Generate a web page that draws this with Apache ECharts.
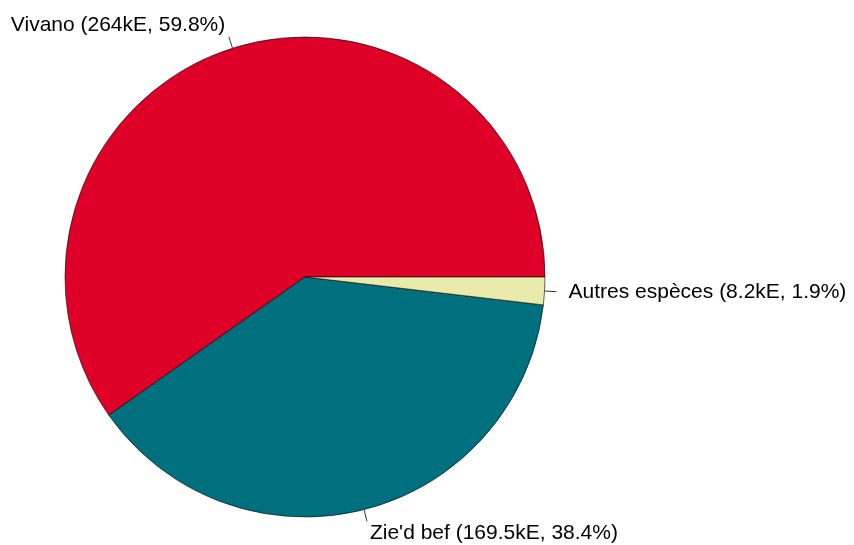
<!DOCTYPE html>
<html>
	<head>
		<meta charset="utf-8">
		<title>pie</title>
		<script src="https://cdn.jsdelivr.net/npm/echarts@6/dist/echarts.min.js"></script>
	</head>
	<body style="margin: 0; background: #fff;">
		<div id="box" style="width: 854px;height: 545px;"></div>
		<script>
			var mCharts = echarts.init(document.querySelector('#box'))

			// especes et valeurs (kE)
			var names = ['Vivano', "Zie'd bef", 'Autres espèces']
			var values = [264, 169.5, 8.2]
			var percents = ['59.8%', '38.4%', '1.9%']
			var colors = ['#DF0027', '#00707F', '#E8EBAA']

			var data = names.map(function (n, i) {
				return {
					name: n,
					value: values[i],
					itemStyle: { color: colors[i] },
					label: { formatter: n + ' (' + values[i] + 'kE, ' + percents[i] + ')' }
				}
			})

			var option = {
				animation: false,
				series: [
					{
						type: 'pie',
						center: [305, 277],
						radius: 240,
						startAngle: 0,
						clockwise: false,
						avoidLabelOverlap: false,
						data: data,
						itemStyle: {
							borderColor: '#000',
							borderWidth: 0.6
						},
						label: {
							show: true,
							position: 'outside',
							color: '#000',
							fontFamily: 'Liberation Sans',
							fontSize: 21
						},
						labelLine: {
							show: true,
							length: 12,
							length2: 0,
							lineStyle: { color: '#333', width: 1 }
						},
						// place label a bit further along the tick, like R's pie()
						labelLayout: function (p) {
							var pts = p.labelLinePoints
							if (!pts) return {}
							var a = pts[0], b = pts[1]
							return {
								x: b[0] + (b[0] - a[0]),
								y: b[1] + (b[1] - a[1]),
								align: b[0] < a[0] ? 'right' : 'left',
								verticalAlign: 'middle',
								labelLinePoints: [a, b]
							}
						}
					}
				]
			}
			mCharts.setOption(option)
		</script>
	</body>
</html>
